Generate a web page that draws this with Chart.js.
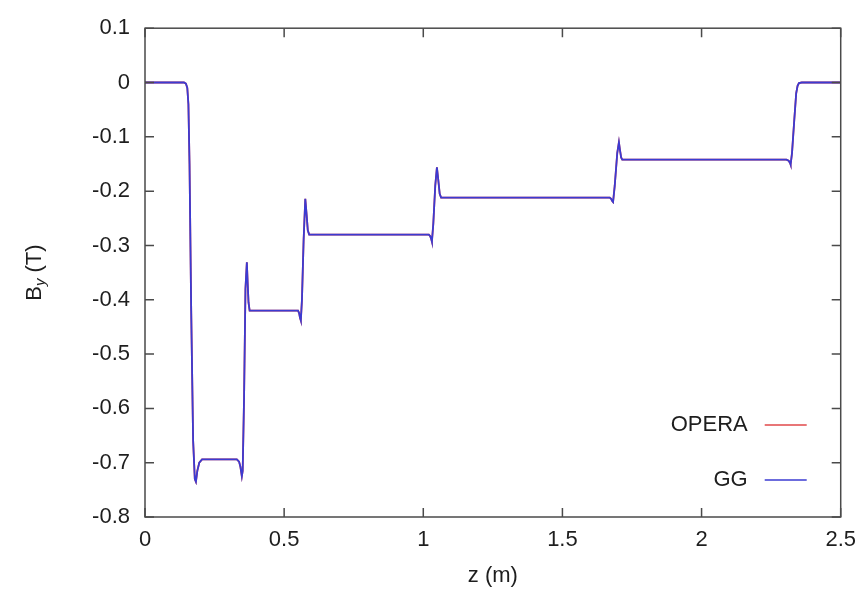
<!DOCTYPE html>
<html>
<head>
<meta charset="utf-8">
<script src="https://cdn.jsdelivr.net/npm/chart.js@4/dist/chart.umd.min.js"></script>
<style>
    html, body { margin: 0; padding: 0; background: #fff; }
    canvas { display: block; }
</style>
</head>
<body>
<canvas id="fieldChart" width="866" height="603"></canvas>
<script>
// z positions along the magnet (m)
const zValues = [
    0, 0.14, 0.147, 0.152, 0.156, 0.160, 0.166, 0.173, 0.179, 0.183, 0.188, 0.195, 0.205,
    0.33, 0.338, 0.343, 0.348, 0.351, 0.356, 0.361, 0.366, 0.369, 0.372, 0.376,
    0.55, 0.554, 0.557, 0.560, 0.564, 0.570, 0.576, 0.581, 0.585, 0.590,
    1.02, 1.025, 1.029, 1.031, 1.036, 1.043, 1.049, 1.054, 1.059, 1.064,
    1.67, 1.675, 1.679, 1.682, 1.688, 1.697, 1.703, 1.707, 1.711, 1.715,
    2.305, 2.313, 2.318, 2.320, 2.325, 2.333, 2.340, 2.345, 2.350, 2.360, 2.5
];

// By (T), GG model
const ggBy = [
    0, 0, -0.002, -0.01, -0.04, -0.15, -0.42, -0.66, -0.73, -0.735, -0.715, -0.700, -0.694,
    -0.694, -0.698, -0.708, -0.725, -0.715, -0.58, -0.38, -0.331, -0.37, -0.405, -0.420,
    -0.420, -0.425, -0.433, -0.438, -0.40, -0.29, -0.214, -0.245, -0.272, -0.280,
    -0.280, -0.283, -0.289, -0.293, -0.26, -0.19, -0.156, -0.180, -0.205, -0.212,
    -0.212, -0.214, -0.218, -0.220, -0.19, -0.13, -0.110, -0.125, -0.138, -0.142,
    -0.142, -0.144, -0.148, -0.151, -0.13, -0.07, -0.02, -0.006, -0.001, 0, 0
];

// By (T), OPERA model (lies under the GG curve)
const operaBy = [
    0, 0, -0.002, -0.01, -0.04, -0.15, -0.42, -0.66, -0.73, -0.735, -0.715, -0.700, -0.694,
    -0.694, -0.698, -0.708, -0.725, -0.715, -0.58, -0.38, -0.331, -0.37, -0.405, -0.420,
    -0.420, -0.425, -0.433, -0.438, -0.40, -0.29, -0.214, -0.245, -0.272, -0.280,
    -0.280, -0.283, -0.289, -0.293, -0.26, -0.19, -0.156, -0.180, -0.205, -0.212,
    -0.212, -0.214, -0.218, -0.220, -0.19, -0.13, -0.110, -0.125, -0.138, -0.142,
    -0.142, -0.144, -0.148, -0.151, -0.13, -0.07, -0.02, -0.006, -0.001, 0, 0
];

const xTickValues = [0, 0.5, 1, 1.5, 2, 2.5];
const yTickValues = [0.1, 0, -0.1, -0.2, -0.3, -0.4, -0.5, -0.6, -0.7, -0.8];

const seriesNames = ['OPERA', 'GG'];
const seriesColors = ['#e0484a', '#3b3bd2'];

const FONT = '"Liberation Sans", Arial, sans-serif';
const TEXT = '#1e1e1e';

const toPoints = (ys) => zValues.map((z, i) => ({ x: z, y: ys[i] }));

// frame, mirrored inward ticks, axis titles and the gnuplot style key
const gnuplotDecor = {
    id: 'gnuplotDecor',
    afterDraw(chart) {
        const { ctx, chartArea: a, scales } = chart;
        const tick = 9;
        ctx.save();

        ctx.strokeStyle = '#4a4a4a';
        ctx.lineWidth = 1.5;
        ctx.strokeRect(a.left, a.top, a.right - a.left, a.bottom - a.top);

        ctx.beginPath();
        xTickValues.forEach(v => {
            const px = scales.x.getPixelForValue(v);
            ctx.moveTo(px, a.bottom); ctx.lineTo(px, a.bottom - tick);
            ctx.moveTo(px, a.top); ctx.lineTo(px, a.top + tick);
        });
        yTickValues.forEach(v => {
            const py = scales.y.getPixelForValue(v);
            ctx.moveTo(a.left, py); ctx.lineTo(a.left + tick, py);
            ctx.moveTo(a.right, py); ctx.lineTo(a.right - tick, py);
        });
        ctx.stroke();

        ctx.fillStyle = TEXT;

        // x title
        ctx.font = '22px ' + FONT;
        ctx.textAlign = 'center';
        ctx.textBaseline = 'middle';
        ctx.fillText('z (m)', (a.left + a.right) / 2, 576);

        // y title with subscript
        ctx.save();
        ctx.translate(35, (a.top + a.bottom) / 2);
        ctx.rotate(-Math.PI / 2);
        ctx.textAlign = 'left';
        ctx.textBaseline = 'middle';
        const big = '22px ' + FONT;
        const sub = 'italic 15px ' + FONT;
        const rest = ' (T)';
        ctx.font = big;
        const wB = ctx.measureText('B').width;
        const wR = ctx.measureText(rest).width;
        ctx.font = sub;
        const wS = ctx.measureText('y').width;
        let x0 = -(wB + wS + wR) / 2;
        ctx.font = big;
        ctx.fillText('B', x0, 0);
        ctx.font = sub;
        ctx.fillText('y', x0 + wB, 6);
        ctx.font = big;
        ctx.fillText(rest, x0 + wB + wS, 0);
        ctx.restore();

        // key
        const keyY = [425, 480];
        ctx.font = '22px ' + FONT;
        ctx.textAlign = 'right';
        seriesNames.forEach((name, i) => {
            ctx.fillStyle = TEXT;
            ctx.fillText(name, a.right - 93, keyY[i]);
            ctx.strokeStyle = seriesColors[i];
            ctx.lineWidth = 1.5;
            ctx.beginPath();
            ctx.moveTo(a.right - 76, keyY[i]);
            ctx.lineTo(a.right - 34, keyY[i]);
            ctx.stroke();
        });

        ctx.restore();
    }
};

new Chart(document.getElementById('fieldChart'), {
    type: 'line',
    data: {
        datasets: [
            {
                label: seriesNames[0],
                data: toPoints(operaBy),
                borderColor: seriesColors[0],
                borderWidth: 1.8,
                pointRadius: 0,
                tension: 0,
                order: 1
            },
            {
                label: seriesNames[1],
                data: toPoints(ggBy),
                borderColor: seriesColors[1],
                borderWidth: 1.8,
                pointRadius: 0,
                tension: 0,
                order: 0
            }
        ]
    },
    options: {
        responsive: false,
        animation: false,
        events: [],
        layout: {
            padding: { top: 21, right: 25, left: 0, bottom: 0 }
        },
        plugins: {
            legend: { display: false },
            tooltip: { enabled: false }
        },
        scales: {
            x: {
                type: 'linear',
                min: 0,
                max: 2.5,
                grid: { display: false, drawTicks: false },
                border: { display: false },
                afterBuildTicks: scale => {
                    scale.ticks = xTickValues.map(v => ({ value: v }));
                },
                afterFit: scale => { scale.height = 86; },
                ticks: {
                    padding: 10,
                    color: TEXT,
                    font: { family: FONT, size: 22 },
                    maxRotation: 0,
                    callback: v => String(Math.round(v * 10) / 10)
                }
            },
            y: {
                type: 'linear',
                min: -0.8,
                max: 0.1,
                grid: { display: false, drawTicks: false },
                border: { display: false },
                afterBuildTicks: scale => {
                    scale.ticks = yTickValues.map(v => ({ value: v }));
                },
                afterFit: scale => { scale.width = 145; },
                ticks: {
                    padding: 15,
                    color: TEXT,
                    font: { family: FONT, size: 22 },
                    callback: v => String(Math.round(v * 10) / 10)
                }
            }
        }
    },
    plugins: [gnuplotDecor]
});
</script>
</body>
</html>
